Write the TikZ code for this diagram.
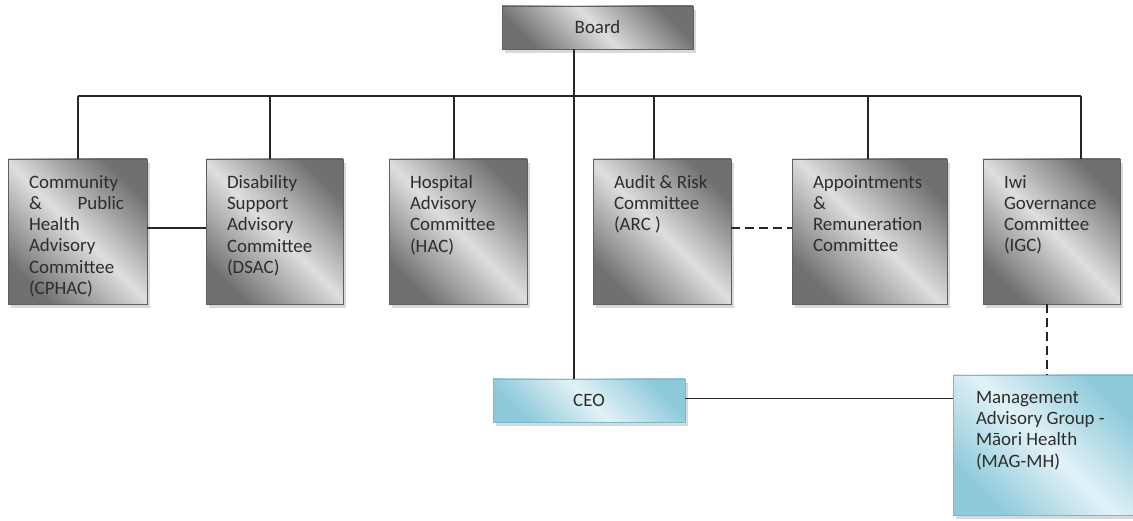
\documentclass[tikz,border=0pt]{standalone}
\usepackage{fontspec}
\setmainfont{Carlito}
\usepackage{tikz}
\usetikzlibrary{shadows,positioning}
\usepackage{xcolor}

\definecolor{graydark}{RGB}{112,112,112}
\definecolor{graylight}{RGB}{222,222,222}
\definecolor{grayline}{RGB}{95,95,95}
\definecolor{bluedark}{RGB}{140,201,218}
\definecolor{bluelight}{RGB}{226,242,246}
\definecolor{blueline}{RGB}{122,184,205}
\definecolor{textgray}{RGB}{45,45,45}

% top aligned text inside a box: [height]{width}{lines}
\newcommand{\ctext}[3][113pt]{\parbox[t][#1][t]{#2}{\raggedright #3}}

\tikzset{
  box/.style={draw=grayline, line width=0.8pt, text=textgray,
    font=\fontsize{18.9pt}{21.3pt}\selectfont,
    drop shadow={shadow xshift=3pt, shadow yshift=-4pt, opacity=0.3, fill=black!50}},
  graybox/.style={box, shading=axis, top color=graydark, bottom color=graydark,
    middle color=graylight, shading angle=-45},
  bluebox/.style={box, draw=blueline, shading=axis, top color=bluedark,
    bottom color=bluedark, middle color=bluelight, shading angle=-45},
  committee/.style={graybox, inner xsep=21pt, inner ysep=16pt},
  wire/.style={line width=1.5pt, black!85},
  dashlink/.style={dash pattern=on 9pt off 5pt},
}

\begin{document}
\begin{tikzpicture}[x=1pt, y=-1pt]
    \useasboundingbox (0,0) rectangle (1133,521);

    % Board and CEO
    \node[graybox, minimum width=191pt, minimum height=43pt] (board) at (597.5,27.5) {Board};
    \node[bluebox, minimum width=192pt, minimum height=43pt] (ceo) at (589,400.5) {CEO};

    % committees of the board
    \node[committee] (cphac) at (77.5,231.5) {\ctext{97pt}{Community\\ \makebox[95pt][s]{\& Public}\\ Health\\ Advisory\\ Committee\\ (CPHAC)}};
    \node[committee] (dsac) at (274.5,231.5) {\ctext{95pt}{Disability\\ Support\\ Advisory\\ Committee\\ (DSAC)}};
    \node[committee] (hac) at (458,231.5) {\ctext{96pt}{Hospital\\ Advisory\\ Committee\\ (HAC)}};
    \node[committee] (arc) at (662,231.5) {\ctext{96pt}{Audit \& Risk\\ Committee\\ (ARC )}};
    \node[committee] (app) at (869.5,231.5) {\ctext{113pt}{Appointments\\ \&\\ Remuneration\\ Committee}};
    \node[committee] (igc) at (1051.5,231.5) {\ctext{95pt}{Iwi\\ Governance\\ Committee\\ (IGC)}};

    % advisory group
    \node[bluebox, inner xsep=23pt, inner ysep=16pt] (mag) at (1045,445) {\ctext[108pt]{138pt}{Management\\ Advisory Group -\\ Māori Health\\ (MAG-MH)}};

    % bus under the board
    \coordinate (bus1) at (78,96);
    \coordinate (bus2) at (270,96);
    \coordinate (bus3) at (454,96);
    \coordinate (bus4) at (654,96);
    \coordinate (bus5) at (868,96);
    \coordinate (bus6) at (1081,96);
    \coordinate (trunk) at (574,96);

    \draw[wire] (bus1) -- (bus6);
    \foreach \b/\n in {bus1/cphac, bus2/dsac, bus3/hac, bus4/arc, bus5/app, bus6/igc}
        \draw[wire] (\b) -- (\b |- \n.north);
    \draw[wire] (trunk |- board.south) -- (trunk |- ceo.north);

    % links between boxes
    \draw[wire] ([yshift=3.5pt]cphac.east) -- ([yshift=3.5pt]dsac.west);
    \draw[wire, dashlink] ([yshift=3.5pt]arc.east) -- ([yshift=3.5pt]app.west);
    \draw[wire] ([yshift=2pt]ceo.east) -- ([yshift=2pt]ceo.east -| mag.west);
    \draw[wire, dashlink] ([xshift=-4.5pt]igc.south) -- ([xshift=-4.5pt]igc.south |- mag.north);
\end{tikzpicture}
\end{document}
